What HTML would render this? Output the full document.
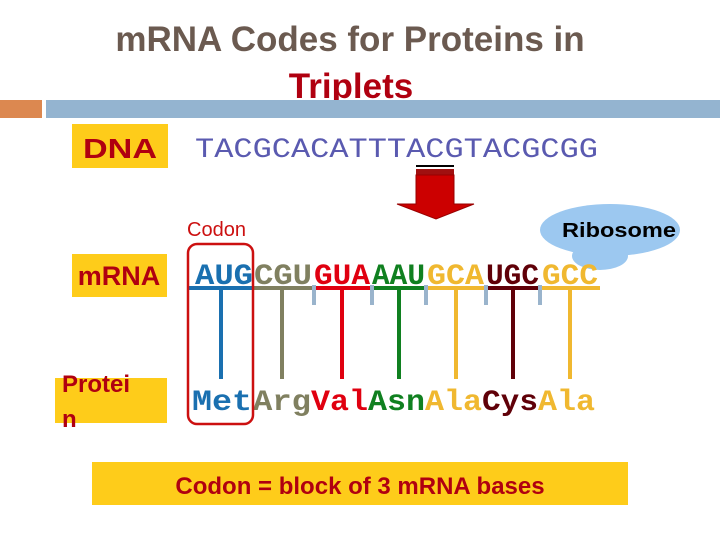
<!DOCTYPE html>
<html><head><meta charset="utf-8"><style>
html,body{margin:0;padding:0;background:#fff;}
</style></head><body>
<svg width="720" height="540" xmlns="http://www.w3.org/2000/svg" style="display:block">
<rect width="720" height="540" fill="#fff"/>
<text x="350" y="51" text-anchor="middle" font-family="Liberation Sans, sans-serif" font-weight="bold" font-size="35" fill="#6b5a50">mRNA Codes for Proteins in</text>
<text x="351" y="98" text-anchor="middle" font-family="Liberation Sans, sans-serif" font-weight="bold" font-size="35" fill="#b00010">Triplets</text>
<rect x="0" y="100" width="42" height="18" fill="#dc8850"/>
<rect x="46" y="100" width="674" height="18" fill="#94b4d0"/>
<rect x="72" y="124" width="96" height="44" fill="#fecc1a"/>
<text x="120" y="158" text-anchor="middle" font-family="Liberation Sans, sans-serif" font-weight="bold" font-size="28" fill="#b00010" textLength="74" lengthAdjust="spacingAndGlyphs">DNA</text>
<text x="195" y="157" font-family="Liberation Mono, monospace" font-size="28" fill="#5a5ab0" textLength="403" lengthAdjust="spacingAndGlyphs">TACGCACATTTACGTACGCGG</text>
<rect x="416" y="165" width="38" height="2" fill="#000"/>
<rect x="416" y="169" width="38" height="6" fill="#a01010"/>
<polygon points="416,175 454,175 454,204 474,204 436,219 397,204 416,204" fill="#cc0000" stroke="#900" stroke-width="1"/>
<text x="187" y="236" font-family="Liberation Sans, sans-serif" font-size="20" fill="#cc1010">Codon</text>
<ellipse cx="610" cy="230" rx="70" ry="26" fill="#9cc8f0"/>
<ellipse cx="600" cy="256" rx="28" ry="14" fill="#9cc8f0"/>
<text x="562" y="237" font-family="Liberation Sans, sans-serif" font-size="20" fill="#000" font-weight="bold" textLength="114" lengthAdjust="spacingAndGlyphs">Ribosome</text>
<rect x="72" y="254" width="95" height="43" fill="#fecc1a"/>
<text x="119" y="285" text-anchor="middle" font-family="Liberation Sans, sans-serif" font-weight="bold" font-size="27" fill="#b00010">mRNA</text>
<rect x="55" y="378" width="112" height="45" fill="#fecc1a"/>
<text x="62" y="392" font-family="Liberation Sans, sans-serif" font-weight="bold" font-size="24" fill="#b00010">Protei</text>
<text x="62" y="427" font-family="Liberation Sans, sans-serif" font-weight="bold" font-size="24" fill="#b00010">n</text>
<g font-family="Liberation Mono, monospace" font-weight="bold" font-size="30">
<text x="195" y="284" fill="#1a70b0" textLength="58" lengthAdjust="spacingAndGlyphs">AUG</text>
<text x="254" y="284" fill="#808060" textLength="58" lengthAdjust="spacingAndGlyphs">CGU</text>
<text x="314" y="284" fill="#e00010" textLength="56" lengthAdjust="spacingAndGlyphs">GUA</text>
<text x="372" y="284" fill="#108020" textLength="53" lengthAdjust="spacingAndGlyphs">AAU</text>
<text x="427" y="284" fill="#f0b830" textLength="57" lengthAdjust="spacingAndGlyphs">GCA</text>
<text x="486" y="284" fill="#600008" textLength="53" lengthAdjust="spacingAndGlyphs">UGC</text>
<text x="542" y="284" fill="#f0b830" textLength="56" lengthAdjust="spacingAndGlyphs">GCC</text>
</g>
<g stroke-width="4">
<line x1="188" y1="288" x2="253" y2="288" stroke="#1a70b0"/>
<line x1="253" y1="288" x2="313" y2="288" stroke="#808060"/>
<line x1="313" y1="288" x2="371" y2="288" stroke="#e00010"/>
<line x1="371" y1="288" x2="426" y2="288" stroke="#108020"/>
<line x1="426" y1="288" x2="485" y2="288" stroke="#f0b830"/>
<line x1="485" y1="288" x2="540" y2="288" stroke="#600008"/>
<line x1="540" y1="288" x2="600" y2="288" stroke="#f0b830"/>
<line x1="221" y1="288" x2="221" y2="379" stroke="#1a70b0"/>
<line x1="282" y1="288" x2="282" y2="379" stroke="#808060"/>
<line x1="342" y1="288" x2="342" y2="379" stroke="#e00010"/>
<line x1="399" y1="288" x2="399" y2="379" stroke="#108020"/>
<line x1="456" y1="288" x2="456" y2="379" stroke="#f0b830"/>
<line x1="513" y1="288" x2="513" y2="379" stroke="#600008"/>
<line x1="570" y1="288" x2="570" y2="379" stroke="#f0b830"/>
<g stroke="#9ab4cc">
<line x1="314" y1="285" x2="314" y2="305"/>
<line x1="372" y1="285" x2="372" y2="305"/>
<line x1="426" y1="285" x2="426" y2="305"/>
<line x1="486" y1="285" x2="486" y2="305"/>
<line x1="540" y1="285" x2="540" y2="305"/>
</g>
</g>
<g font-family="Liberation Mono, monospace" font-weight="bold" font-size="30">
<text x="192" y="410" fill="#1a70b0" textLength="60" lengthAdjust="spacingAndGlyphs">Met</text>
<text x="253" y="410" fill="#808060" textLength="58" lengthAdjust="spacingAndGlyphs">Arg</text>
<text x="311" y="410" fill="#e00010" textLength="57" lengthAdjust="spacingAndGlyphs">Val</text>
<text x="368" y="410" fill="#108020" textLength="57" lengthAdjust="spacingAndGlyphs">Asn</text>
<text x="425" y="410" fill="#f0b830" textLength="57" lengthAdjust="spacingAndGlyphs">Ala</text>
<text x="482" y="410" fill="#600008" textLength="56" lengthAdjust="spacingAndGlyphs">Cys</text>
<text x="538" y="410" fill="#f0b830" textLength="57" lengthAdjust="spacingAndGlyphs">Ala</text>
</g>
<rect x="188" y="244" width="65" height="180" rx="9" fill="none" stroke="#cc1010" stroke-width="2.5"/>
<rect x="92" y="462" width="536" height="43" fill="#fecc1a"/>
<text x="360" y="494" text-anchor="middle" font-family="Liberation Sans, sans-serif" font-weight="bold" font-size="24" fill="#b00010">Codon = block of 3 mRNA bases</text>
</svg>
</body></html>
